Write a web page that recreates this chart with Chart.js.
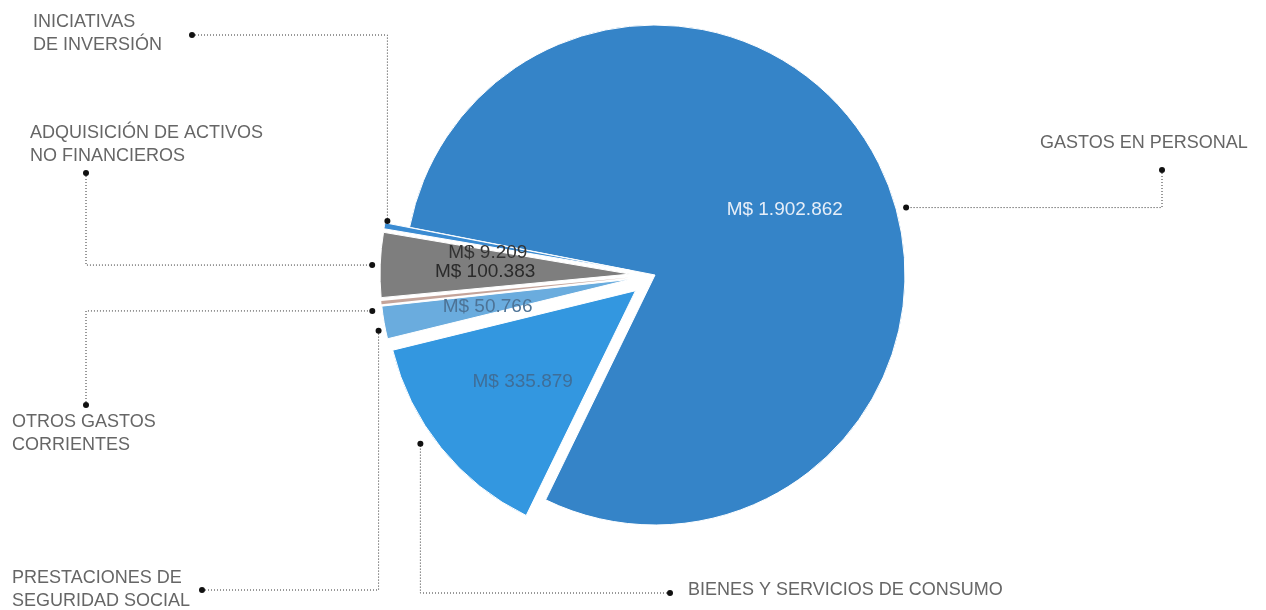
<!DOCTYPE html>
<html>
<head>
<meta charset="utf-8">
<script src="https://cdn.jsdelivr.net/npm/chart.js@4.4.1/dist/chart.umd.min.js"></script>
<style>
  html, body { margin: 0; padding: 0; background: #fff; }
  canvas { display: block; }
</style>
</head>
<body>
<canvas id="myChart" width="1266" height="610"></canvas>
<script>
// data
const categories = [
    ["GASTOS EN PERSONAL"],
    ["BIENES Y SERVICIOS DE CONSUMO"],
    ["PRESTACIONES DE", "SEGURIDAD SOCIAL"],
    ["OTROS GASTOS", "CORRIENTES"],
    ["ADQUISICIÓN DE ACTIVOS", "NO FINANCIEROS"],
    ["INICIATIVAS", "DE INVERSIÓN"]
];
const amounts = [1902862, 335879, 50766, 5000, 100383, 9209];
const showAmount = [true, true, true, false, true, true];

// styles
const sliceColors = ['#3584c8', '#3397e0', '#6aacde', '#c4a49a', '#7e7e7e', '#3a8bd2'];
const amountColors = ['#e6eef8', '#3f6e98', '#4d7396', '#333', '#2a2a2a', '#333'];
const amountNudge = [0, 0, 2, 0, 3, 8];
const explode = [0, 25, 25, 25, 25, 25];

function fmt(n) {
    return 'M$ ' + String(n).replace(/\B(?=(\d{3})+(?!\d))/g, '.');
}

function shiftOf(arc, i) {
    const mid = (arc.startAngle + arc.endAngle) / 2;
    return { dx: Math.cos(mid) * explode[i], dy: Math.sin(mid) * explode[i], mid: mid };
}

// where each category label and its leader sit
const callouts = [
    { tx: 1040, ty: 143, dot: [1162, 170], route: 'v', deg: 11.5, pad: 10 },
    { tx: 688, ty: 590, dot: [670, 593], route: 'h', deg: 3.5, pad: 14 },
    { tx: 12, ty: 578, dot: [202, 590], route: 'h', deg: -1.6, pad: 7 },
    { tx: 12, ty: 422, dot: [86, 405], route: 'v', deg: -1.6, pad: 10 },
    { tx: 30, ty: 133, dot: [86, 173], route: 'v', deg: -0.1, pad: 8 },
    { tx: 33, ty: 22, dot: [192, 35], route: 'h', deg: 1.2, pad: -2 }
];

const explodePlugin = {
    id: 'explode',
    beforeDatasetDraw(chart, args) {
        const ctx = chart.ctx;
        args.meta.data.forEach(function(arc, i) {
            const s = shiftOf(arc, i);
            ctx.save();
            ctx.translate(s.dx, s.dy);
            arc.draw(ctx, chart.chartArea);
            ctx.restore();
        });
        return false;
    }
};

const labelPlugin = {
    id: 'callouts',
    afterDraw(chart) {
        const ctx = chart.ctx;
        const arcs = chart.getDatasetMeta(0).data;

        // values inside slices
        ctx.save();
        ctx.font = '19px "Liberation Sans", Arial, sans-serif';
        ctx.textAlign = 'center';
        ctx.textBaseline = 'middle';
        arcs.forEach(function(arc, i) {
            if (!showAmount[i]) return;
            const s = shiftOf(arc, i);
            const r = arc.outerRadius * 0.58;
            ctx.fillStyle = amountColors[i];
            ctx.fillText(fmt(amounts[i]), arc.x + s.dx + Math.cos(s.mid) * r,
                arc.y + s.dy + Math.sin(s.mid) * r + amountNudge[i]);
        });
        ctx.restore();

        // leaders + category names
        ctx.save();
        arcs.forEach(function(arc, i) {
            const c = callouts[i];
            const s = shiftOf(arc, i);
            const a = s.mid + c.deg * Math.PI / 180;
            const px = arc.x + s.dx + Math.cos(a) * (arc.outerRadius + c.pad);
            const py = arc.y + s.dy + Math.sin(a) * (arc.outerRadius + c.pad);
            const lx = c.dot[0], ly = c.dot[1];

            ctx.beginPath();
            ctx.setLineDash([1, 2]);
            ctx.lineWidth = 1;
            ctx.strokeStyle = '#333';
            ctx.moveTo(lx, ly);
            if (c.route == 'h') ctx.lineTo(px, ly);
            else ctx.lineTo(lx, py);
            ctx.lineTo(px, py);
            ctx.stroke();
            ctx.setLineDash([]);

            ctx.fillStyle = '#111';
            [[lx, ly], [px, py]].forEach(function(p) {
                ctx.beginPath();
                ctx.arc(p[0], p[1], 3, 0, Math.PI * 2);
                ctx.fill();
            });

            ctx.fillStyle = '#666';
            ctx.font = '18px "Liberation Sans", Arial, sans-serif';
            ctx.textAlign = 'left';
            ctx.textBaseline = 'middle';
            categories[i].forEach(function(line, k) {
                ctx.fillText(line, c.tx, c.ty + k * 23);
            });
        });
        ctx.restore();
    }
};

var ctx = document.getElementById('myChart').getContext('2d');
var chart = new Chart(ctx, {
    type: 'pie',
    data: {
        labels: categories,
        datasets: [{
            data: amounts,
            backgroundColor: sliceColors,
            borderColor: '#ffffff',
            borderWidth: [1, 1, 1, 0, 1, 1],
            offset: 0
        }]
    },
    options: {
        responsive: false,
        animation: false,
        events: [],
        rotation: 281.0,
        radius: 250,
        layout: { padding: { left: 44, right: 0, top: 0, bottom: 60 } },
        plugins: {
            legend: { display: false },
            tooltip: { enabled: false }
        }
    },
    plugins: [explodePlugin, labelPlugin]
});
</script>
</body>
</html>
